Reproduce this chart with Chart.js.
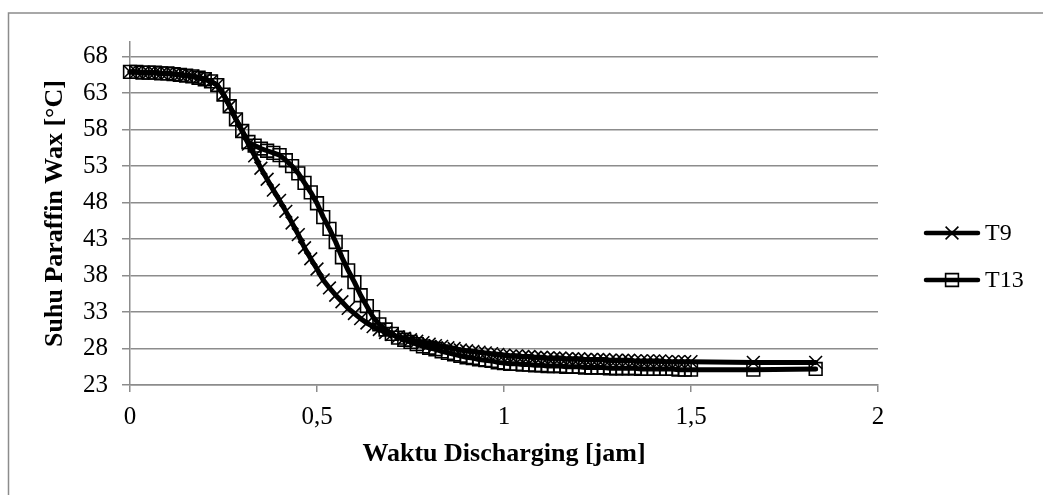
<!DOCTYPE html>
<html>
<head>
<meta charset="utf-8">
<script src="https://cdn.jsdelivr.net/npm/chart.js@4/dist/chart.umd.min.js"></script>
<style>
  html, body { margin: 0; padding: 0; background: #fff; }
  #wrap { width: 1043px; height: 495px; position: relative; }
</style>
</head>
<body>
<div id="wrap"><canvas id="grafik"></canvas></div>
<script>
// waktu dalam menit (dikonversi ke jam untuk sumbu x)
const menit = [
  0, 1, 2, 3, 4, 5, 6, 7, 8, 9,
  10, 11, 12, 13, 14, 15, 16, 17, 18, 19,
  20, 21, 22, 23, 24, 25, 26, 27, 28, 29,
  30, 31, 32, 33, 34, 35, 36, 37, 38, 39,
  40, 41, 42, 43, 44, 45, 46, 47, 48, 49,
  50, 51, 52, 53, 54, 55, 56, 57, 58, 59,
  60, 61, 62, 63, 64, 65, 66, 67, 68, 69,
  70, 71, 72, 73, 74, 75, 76, 77, 78, 79,
  80, 81, 82, 83, 84, 85, 86, 87, 88, 89,
  90, 100, 110
];

const suhuT9 = [
  65.9, 65.9, 65.8, 65.8, 65.8, 65.7, 65.7, 65.6, 65.5, 65.4,
  65.3, 65.1, 64.9, 64.6, 64.1, 62.8, 61.2, 59.4, 57.8, 56.0,
  54.4, 52.7, 51.2, 49.7, 48.3, 46.8, 45.2, 43.6, 41.8, 40.3,
  38.9, 37.4, 36.3, 35.3, 34.4, 33.5, 32.8, 32.1, 31.5, 31.0,
  30.6, 30.2, 29.9, 29.6, 29.4, 29.2, 29.0, 28.8, 28.6, 28.4,
  28.3, 28.1, 28.0, 27.8, 27.7, 27.6, 27.5, 27.4, 27.3, 27.2,
  27.1, 27.0, 27.0, 26.9, 26.9, 26.8, 26.8, 26.7, 26.7, 26.7,
  26.6, 26.6, 26.6, 26.5, 26.5, 26.5, 26.5, 26.4, 26.4, 26.4,
  26.4, 26.3, 26.3, 26.3, 26.3, 26.3, 26.2, 26.2, 26.2, 26.2,
  26.2, 26.1, 26.1
];

const suhuT13 = [
  65.9, 65.9, 65.8, 65.8, 65.8, 65.7, 65.7, 65.6, 65.5, 65.4,
  65.3, 65.1, 64.9, 64.6, 64.1, 62.8, 61.2, 59.4, 57.8, 56.3,
  55.8, 55.4, 55.1, 54.8, 54.5, 53.8, 53.0, 52.0, 50.7, 49.4,
  47.9, 46.0, 44.4, 42.6, 40.5, 38.7, 37.1, 35.3, 33.8, 32.3,
  31.3, 30.6, 30.0, 29.5, 29.2, 28.9, 28.6, 28.3, 28.1, 27.9,
  27.6, 27.4, 27.2, 27.0, 26.8, 26.7, 26.5, 26.4, 26.3, 26.1,
  26.0, 25.9, 25.9, 25.8, 25.8, 25.7, 25.7, 25.6, 25.6, 25.6,
  25.5, 25.5, 25.5, 25.4, 25.4, 25.4, 25.4, 25.3, 25.3, 25.3,
  25.3, 25.3, 25.2, 25.2, 25.2, 25.2, 25.2, 25.2, 25.1, 25.1,
  25.1, 25.1, 25.2
];

const seriesLabels = ["T9", "T13"];
const yTicks = [23, 28, 33, 38, 43, 48, 53, 58, 63, 68];
const xTicks = [0, 0.5, 1, 1.5, 2];

const serif = "'Liberation Serif', 'Times New Roman', serif";

function toPoints(vals) {
  return vals.map((v, i) => ({ x: menit[i] / 60, y: v }));
}

const seriesStyle = {
  borderColor: "#000",
  borderWidth: 5,
  borderJoinStyle: "round",
  borderCapStyle: "round",
  pointRadius: 9,
  pointHoverRadius: 9,
  pointBorderColor: "#000",
  pointBackgroundColor: "rgba(0,0,0,0)",
  pointBorderWidth: 1.6,
  tension: 0,
  fill: false,
  clip: false,
};

// bingkai kiri/atas dan latar putih
const bingkai = {
  id: "bingkai",
  beforeDraw(chart) {
    const ctx = chart.ctx;
    ctx.save();
    ctx.fillStyle = "#fff";
    ctx.fillRect(0, 0, chart.width, chart.height);
    ctx.strokeStyle = "#8c8c8c";
    ctx.lineWidth = 1.5;
    ctx.beginPath();
    ctx.moveTo(8.5, chart.height);
    ctx.lineTo(8.5, 13);
    ctx.lineTo(chart.width, 13);
    ctx.stroke();
    ctx.restore();
  },
};

// legenda gaya excel: garis + penanda
const legenda = {
  id: "legenda",
  afterDraw(chart) {
    const ctx = chart.ctx;
    const rows = [233, 280];
    ctx.save();
    chart.data.datasets.forEach((ds, i) => {
      const y = rows[i];
      ctx.strokeStyle = "#000";
      ctx.lineCap = "round";
      ctx.lineWidth = 4.5;
      ctx.beginPath();
      ctx.moveTo(926, y);
      ctx.lineTo(978, y);
      ctx.stroke();
      ctx.lineWidth = 1.6;
      ctx.lineCap = "butt";
      const h = 6.4;
      ctx.beginPath();
      if (ds.pointStyle === "rect") {
        ctx.rect(952 - h, y - h, 2 * h, 2 * h);
      } else {
        ctx.moveTo(952 - h, y - h);
        ctx.lineTo(952 + h, y + h);
        ctx.moveTo(952 + h, y - h);
        ctx.lineTo(952 - h, y + h);
      }
      ctx.stroke();
      ctx.fillStyle = "#000";
      ctx.font = "24px " + serif;
      ctx.textAlign = "left";
      ctx.textBaseline = "middle";
      ctx.fillText(ds.label, 985, y + 1);
    });
    ctx.restore();
  },
};

new Chart(document.getElementById("grafik"), {
  type: "line",
  data: {
    datasets: [
      Object.assign({ label: seriesLabels[0], data: toPoints(suhuT9), pointStyle: "crossRot" }, seriesStyle),
      Object.assign({ label: seriesLabels[1], data: toPoints(suhuT13), pointStyle: "rect" }, seriesStyle),
    ],
  },
  options: {
    responsive: true,
    maintainAspectRatio: false,
    animation: false,
    layout: { padding: { top: 42, right: 165, bottom: 0, left: 0 } },
    plugins: {
      legend: { display: false },
      tooltip: { enabled: false },
    },
    scales: {
      x: {
        type: "linear",
        min: 0,
        max: 2,
        afterFit: (s) => { s.height = 110; },
        afterBuildTicks: (s) => { s.ticks = xTicks.map((v) => ({ value: v })); },
        grid: { display: true, drawOnChartArea: false, drawTicks: true, tickLength: 7, color: "#8c8c8c", lineWidth: 1.5 },
        border: { display: true, color: "#8c8c8c", width: 1.5 },
        ticks: {
          color: "#000",
          padding: 10,
          maxRotation: 0,
          font: { family: serif, size: 25 },
          callback: (v) => String(v).replace(".", ","),
        },
        title: {
          display: true,
          text: "Waktu Discharging [jam]",
          color: "#000",
          font: { family: serif, size: 26, weight: "bold" },
          padding: { top: 0, bottom: 25 },
        },
      },
      y: {
        type: "linear",
        min: 23,
        max: 70,
        afterFit: (s) => { s.width = 130; },
        afterBuildTicks: (s) => { s.ticks = yTicks.map((v) => ({ value: v })); },
        grid: { color: "#8c8c8c", lineWidth: 1.5, tickLength: 8 },
        border: { display: true, color: "#8c8c8c", width: 1.5 },
        ticks: {
          color: "#000",
          padding: 14,
          font: { family: serif, size: 25 },
        },
        title: {
          display: true,
          text: "Suhu Paraffin Wax [°C]",
          color: "#000",
          font: { family: serif, size: 26, weight: "bold" },
          padding: { top: 40, bottom: 0 },
        },
      },
    },
  },
  plugins: [bingkai, legenda],
});
</script>
</body>
</html>
